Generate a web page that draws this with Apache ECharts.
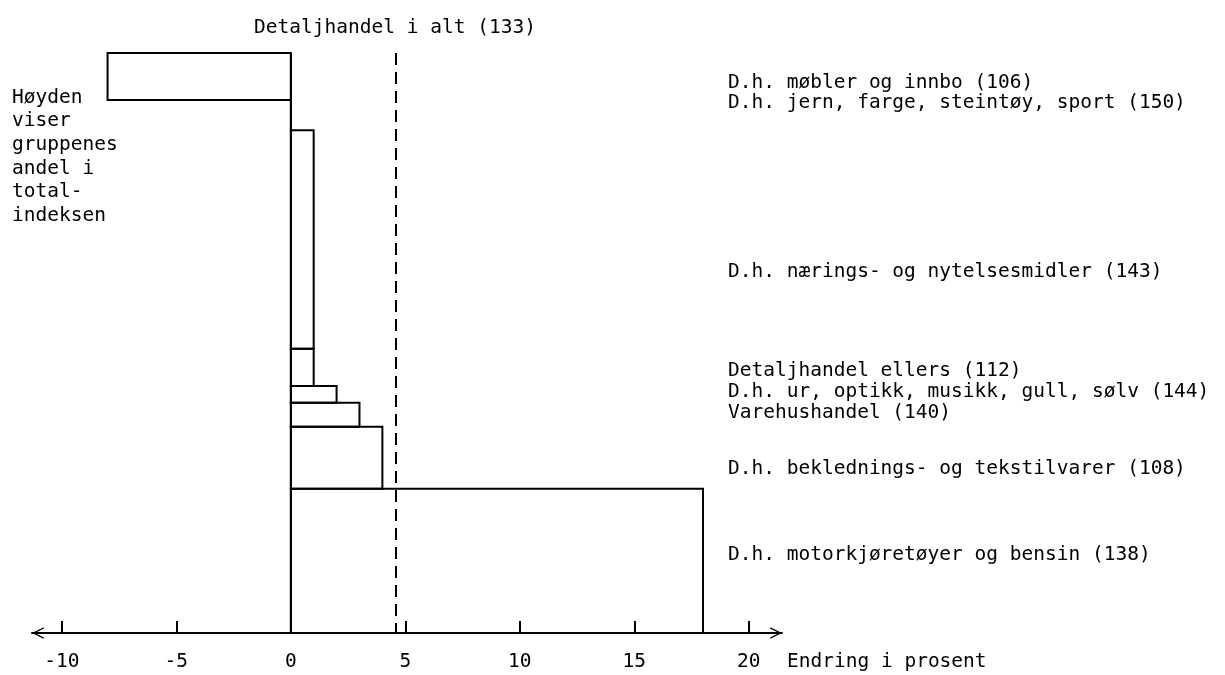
<!DOCTYPE html>
<html>
<head>
<meta charset="utf-8">
<script src="https://cdn.jsdelivr.net/npm/echarts@6/dist/echarts.min.js"></script>
<style>
html,body{margin:0;padding:0;background:#fff;}
#chart{width:1225px;height:675px;}
</style>
</head>
<body>
<div id="chart"></div>
<script>
// ---- data ----
const categories = [
  'D.h. møbler og innbo (106)',
  'D.h. jern, farge, steintøy, sport (150)',
  'D.h. nærings- og nytelsesmidler (143)',
  'Detaljhandel ellers (112)',
  'D.h. ur, optikk, musikk, gull, sølv (144)',
  'Varehushandel (140)',
  'D.h. beklednings- og tekstilvarer (108)',
  'D.h. motorkjøretøyer og bensin (138)'
];
// share of total index (bar height)
const shares = [8.1, 5.2, 37.6, 6.4, 2.9, 4.1, 10.7, 24.8];
// change in percent (bar length)
const changes = [-8.0, 0.0, 1.0, 1.0, 2.0, 3.0, 4.0, 18.0];
const totalChange = 4.6;
const totalLabel = 'Detaljhandel i alt (133)';
const xTickValues = [-10, -5, 0, 5, 10, 15, 20];
const axisName = 'Endring i prosent';
const noteLines = ['Høyden', 'viser', 'gruppenes', 'andel i', 'total-', 'indeksen'];

// ---- build ----
const FONT = '"DejaVu Sans Mono", monospace';
const FS = 19.5;
const INK = '#000';
let cum = 0;
const barData = categories.map((c, i) => {
  const y0 = cum; cum += shares[i];
  return [changes[i], y0, cum];
});
const totalShare = cum;

// label layout (pixel y of text centres on the right side)
const labelYs = [82.5, 103, 272, 370.5, 392, 412.5, 469, 555];

const chart = echarts.init(document.getElementById('chart'));
const graphics = [];
categories.forEach((c, i) => {
  graphics.push({type: 'text', x: 728, y: labelYs[i],
    style: {text: c, font: FS + 'px ' + FONT, fill: INK, textVerticalAlign: 'middle'}});
});
graphics.push({type: 'text', x: 395, y: 28,
  style: {text: totalLabel, font: FS + 'px ' + FONT, fill: INK, textAlign: 'center', textVerticalAlign: 'middle'}});
graphics.push({type: 'text', x: 787, y: 662,
  style: {text: axisName, font: FS + 'px ' + FONT, fill: INK, textVerticalAlign: 'middle'}});
graphics.push({type: 'text', x: 12, y: 86,
  style: {text: noteLines.join('\n'), font: FS + 'px ' + FONT, fill: INK, lineHeight: 23.6, textVerticalAlign: 'top'}});

const chevron = 'path://M0,10 L5,0 L10,10 L8.8,10.4 L5,2.6 L1.2,10.4 Z';

chart.setOption({
  animation: false,
  backgroundColor: '#fff',
  grid: {left: 32, right: 443, top: 53, bottom: 42, outerBoundsMode: 'none'},
  xAxis: {
    type: 'value', min: -11.3, max: 21.45,
    axisLine: {show: true, onZero: false, lineStyle: {color: INK, width: 2},
      symbol: [chevron, chevron], symbolSize: [17, 12], symbolOffset: [6, -6]},
    axisTick: {show: true, inside: true, length: 12, lineStyle: {color: INK, width: 2},
      customValues: xTickValues},
    axisLabel: {show: true, margin: 19, color: INK, fontFamily: FONT, fontSize: FS,
      customValues: xTickValues, showMinLabel: true, showMaxLabel: true},
    splitLine: {show: false}
  },
  yAxis: {type: 'value', min: 0, max: totalShare, inverse: true, show: false},
  graphic: graphics,
  series: [{
    type: 'custom',
    clip: false,
    encode: {x: 0, y: [1, 2]},
    data: barData,
    renderItem: function (params, api) {
      const v = api.value(0), y0 = api.value(1), y1 = api.value(2);
      const a = api.coord([0, y0]);
      const b = api.coord([v, y1]);
      return {
        type: 'rect',
        shape: {x: Math.min(a[0], b[0]), y: Math.min(a[1], b[1]),
          width: Math.abs(b[0] - a[0]), height: Math.abs(b[1] - a[1])},
        style: {fill: 'none', stroke: INK, lineWidth: 2}
      };
    },
    markLine: {
      silent: true, symbol: 'none', label: {show: false},
      data: [
        {xAxis: 0, lineStyle: {type: 'solid', color: INK, width: 2}},
        {xAxis: totalChange, lineStyle: {type: [12, 7], color: INK, width: 2}}
      ]
    }
  }]
});
</script>
</body>
</html>
